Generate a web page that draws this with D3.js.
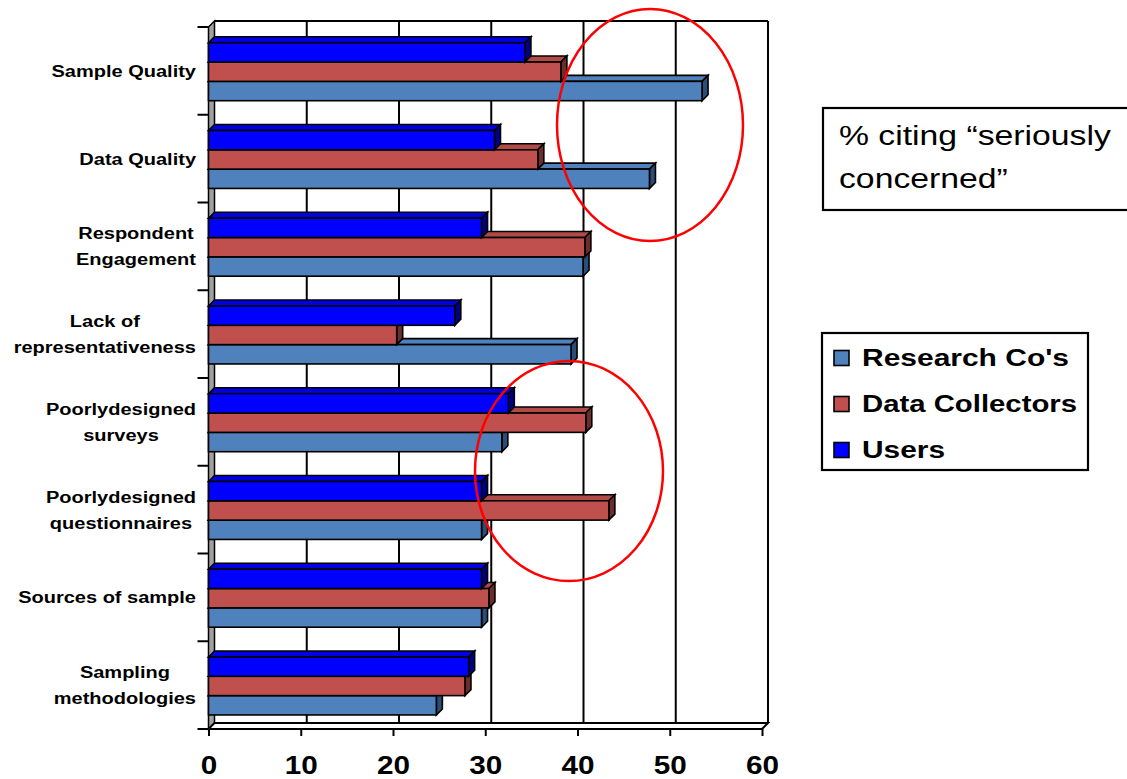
<!DOCTYPE html>
<html>
<head>
<meta charset="utf-8">
<script src="https://cdn.jsdelivr.net/npm/d3@7"></script>
<style>
  html, body { margin: 0; padding: 0; background: #fff; }
  svg { display: block; font-family: Arial, "Liberation Sans", Helvetica, sans-serif; }
</style>
</head>
<body>
<svg id="chart" width="1127" height="779"></svg>
<script>
// Categories, top to bottom
const categories = [
  "Sample Quality",
  "Data Quality",
  "Respondent Engagement",
  "Lack of representativeness",
  "Poorlydesigned surveys",
  "Poorlydesigned questionnaires",
  "Sources of sample",
  "Sampling methodologies"
];
// Label lines for each category
const categoryLines = [
  ["Sample Quality"],
  ["Data Quality"],
  ["Respondent", "Engagement"],
  ["Lack of", "representativeness"],
  ["Poorlydesigned", "surveys"],
  ["Poorlydesigned", "questionnaires"],
  ["Sources of sample"],
  ["Sampling", "methodologies"]
];
// % citing "seriously concerned"
const researchCos    = [53.5, 47.8, 40.6, 39.3, 31.8, 29.6, 29.6, 24.7];
const dataCollectors = [38.2, 35.7, 40.8, 20.4, 40.9, 43.4, 30.4, 27.8];
const users          = [34.3, 31.0, 29.6, 26.7, 32.5, 29.6, 29.6, 28.2];

const seriesNames = ["Research Co's", "Data Collectors", "Users"];
const xTicks = [0, 10, 20, 30, 40, 50, 60];
const noteLines = ["% citing \u201cseriously", "concerned\u201d"];

const series = [
  { name: seriesNames[0], values: researchCos,    front: "#4F81BD", top: "#4F81BD", side: "#2C4D75" },
  { name: seriesNames[1], values: dataCollectors, front: "#C0504D", top: "#B04A47", side: "#6E2C2A" },
  { name: seriesNames[2], values: users,          front: "#0000FF", top: "#0000E0", side: "#000080" }
];

// Text in this chart is set in a horizontally widened face
const SX = 1.25;

const svg = d3.select("#chart");

// 3D depth offset
const DX = 6, DY = -6;

const x = d3.scaleLinear().domain([0, 60]).range([208.5, 762]);
const y = d3.scaleBand().domain(categories).range([27, 729]);
// Users on top, Research Co's at the bottom of each group
const ySub = d3.scaleBand().domain([seriesNames[2], seriesNames[1], seriesNames[0]])
  .range([15.7, 15.7 + 58]);

const x0 = x(0), yTop = y.range()[0], yBot = y.range()[1];

// Back wall
svg.append("rect")
  .attr("x", x0 + DX).attr("y", yTop + DY)
  .attr("width", x(60) - x0).attr("height", yBot - yTop)
  .attr("fill", "#fff");

// Gridlines on back wall
svg.append("g").selectAll("line").data(xTicks.filter(d => d > 0)).join("line")
  .attr("x1", d => x(d) + DX).attr("x2", d => x(d) + DX)
  .attr("y1", yTop + DY).attr("y2", yBot + DY)
  .attr("stroke", "#000").attr("stroke-width", 2);

// Top edge of back wall
svg.append("line")
  .attr("x1", x0 + DX).attr("x2", x(60) + DX)
  .attr("y1", yTop + DY).attr("y2", yTop + DY)
  .attr("stroke", "#000").attr("stroke-width", 2);

// Left wall
svg.append("polygon")
  .attr("points", [[x0, yTop], [x0 + DX, yTop + DY], [x0 + DX, yBot + DY], [x0, yBot]].map(p => p.join(",")).join(" "))
  .attr("fill", "#A0A0A0").attr("stroke", "#000").attr("stroke-width", 1.5);

// Floor
svg.append("polygon")
  .attr("points", [[x0, yBot], [x0 + DX, yBot + DY], [x(60) + DX, yBot + DY], [x(60), yBot]].map(p => p.join(",")).join(" "))
  .attr("fill", "#fff").attr("stroke", "#000").attr("stroke-width", 2);

// Category axis ticks
svg.append("g").selectAll("line")
  .data(d3.range(categories.length + 1)).join("line")
  .attr("x1", x0 - 11).attr("x2", x0)
  .attr("y1", i => yTop + i * y.step()).attr("y2", i => yTop + i * y.step())
  .attr("stroke", "#000").attr("stroke-width", 2);

// Value axis ticks and labels
const xAxis = d3.axisBottom(x).tickValues(xTicks).tickSize(7).tickPadding(0).tickFormat(d3.format("d"));
const xg = svg.append("g").attr("transform", `translate(0,${yBot})`).call(xAxis);
xg.select(".domain").remove();
xg.selectAll(".tick line").attr("stroke", "#000").attr("stroke-width", 2);
xg.selectAll(".tick text")
  .attr("fill", "#000")
  .attr("y", 0).attr("dy", null)
  .attr("transform", `translate(0,45) scale(${SX * 0.95},1)`)
  .attr("font-size", 25).attr("font-weight", "bold")
  .attr("font-family", "Arial, 'Liberation Sans', sans-serif");

// Bars: draw bottom series first so upper bars overlap the top faces below
const barH = ySub.bandwidth();
const barG = svg.append("g").attr("stroke", "#000").attr("stroke-width", 1.6).attr("stroke-linejoin", "miter");
categories.forEach((cat, ci) => {
  series.forEach(s => {
    const v = s.values[ci];
    const bx0 = x(0), bx1 = x(v);
    const by = y(cat) + ySub(s.name);
    const g = barG.append("g");
    // top face
    g.append("polygon")
      .attr("points", [[bx0, by], [bx0 + DX, by + DY], [bx1 + DX, by + DY], [bx1, by]].map(p => p.join(",")).join(" "))
      .attr("fill", s.top);
    // end face
    g.append("polygon")
      .attr("points", [[bx1, by], [bx1 + DX, by + DY], [bx1 + DX, by + barH + DY], [bx1, by + barH]].map(p => p.join(",")).join(" "))
      .attr("fill", s.side);
    // front face
    g.append("rect")
      .attr("x", bx0).attr("y", by).attr("width", bx1 - bx0).attr("height", barH)
      .attr("fill", s.front);
  });
});

// Category labels
const labG = svg.append("g").attr("font-size", 16).attr("font-weight", "bold").attr("fill", "#000");
categories.forEach((cat, ci) => {
  const lines = categoryLines[ci];
  const cy = y(cat) + y.bandwidth() / 2;
  const lh = 26;
  const tmp = lines.map((ln, li) => labG.append("text")
    .attr("text-anchor", "middle")
    .attr("data-y", cy + (li - (lines.length - 1) / 2) * lh + 6)
    .text(ln));
  const w = d3.max(tmp, t => t.node().getComputedTextLength()) * SX;
  const cxl = 196 - w / 2;
  tmp.forEach(t => t.attr("transform", `translate(${cxl},${t.attr("data-y")}) scale(${SX},1)`));
});

// Highlight ellipses
const ellipses = [
  { cx: 650, cy: 125, rx: 93, ry: 116 },
  { cx: 569, cy: 471, rx: 94, ry: 110 }
];
svg.append("g").selectAll("ellipse").data(ellipses).join("ellipse")
  .attr("cx", d => d.cx).attr("cy", d => d.cy).attr("rx", d => d.rx).attr("ry", d => d.ry)
  .attr("fill", "none").attr("stroke", "#FF0000").attr("stroke-width", 2.5);

// Note box
svg.append("rect")
  .attr("x", 823).attr("y", 108).attr("width", 330).attr("height", 102)
  .attr("fill", "#fff").attr("stroke", "#000").attr("stroke-width", 2.2);
svg.append("g").selectAll("text").data(noteLines).join("text")
  .attr("transform", (d, i) => `translate(839,${145 + i * 43}) scale(${SX},1)`)
  .attr("font-size", 27).attr("fill", "#000")
  .text(d => d);

// Legend
const lg = svg.append("g");
lg.append("rect")
  .attr("x", 822).attr("y", 333).attr("width", 266).attr("height", 137)
  .attr("fill", "#fff").attr("stroke", "#000").attr("stroke-width", 2.2);
const legendWidths = [207, 215, 83];
series.forEach((s, i) => {
  const ly = 365.5 + i * 46;
  lg.append("rect")
    .attr("x", 834).attr("y", ly - 15).attr("width", 15).attr("height", 15)
    .attr("fill", s.front).attr("stroke", "#000").attr("stroke-width", 1.6);
  lg.append("text")
    .attr("x", 862).attr("y", ly)
    .attr("font-size", 23).attr("font-weight", "bold").attr("fill", "#000")
    .attr("textLength", legendWidths[i]).attr("lengthAdjust", "spacingAndGlyphs")
    .text(s.name);
});
</script>
</body>
</html>
